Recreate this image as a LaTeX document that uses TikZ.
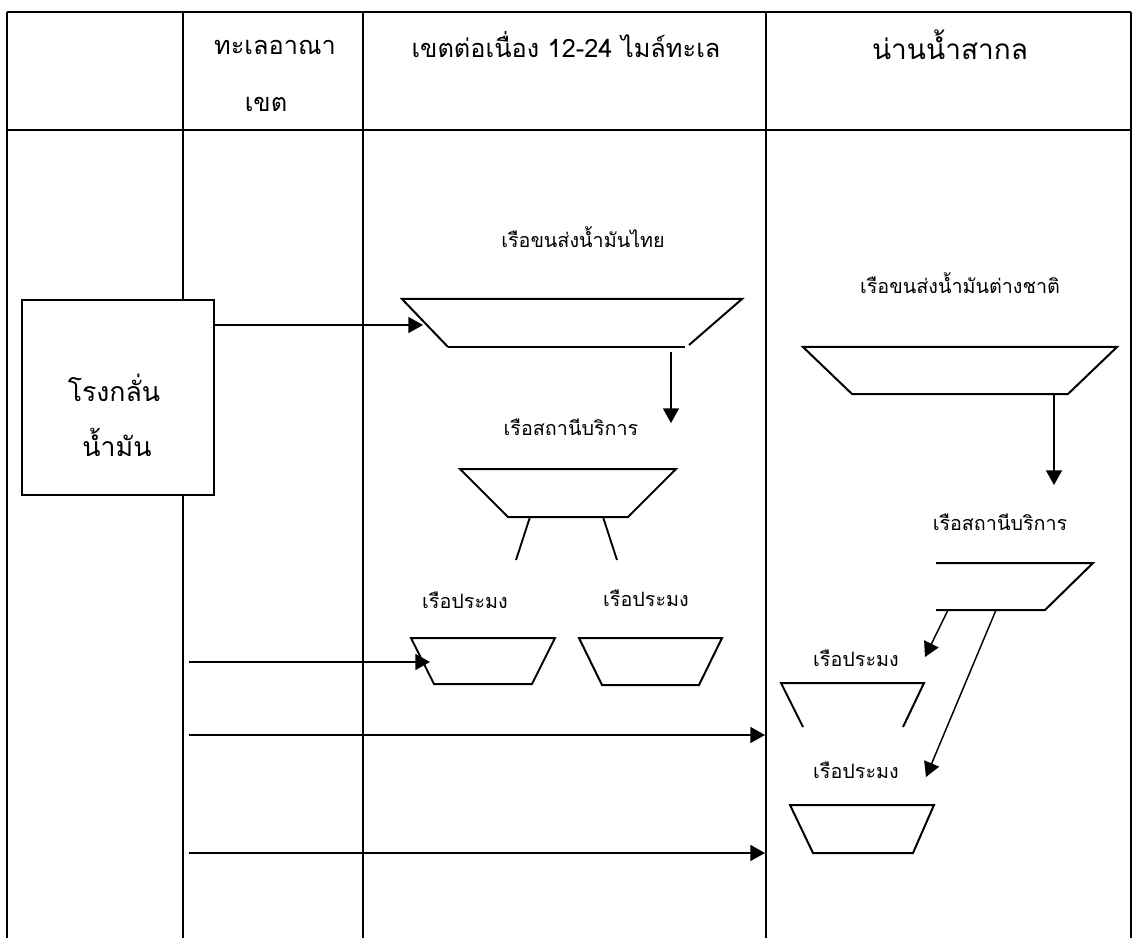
\documentclass[tikz,border=0pt]{standalone}
\usepackage{fontspec}
\newfontfamily\thai[Script=Thai]{Loma}
\usetikzlibrary{arrows.meta}
\tikzset{
  tblthick/.style={line width=1.9pt},
  tblthin/.style={line width=1.1pt},
  ship/.style={line width=1.5pt, line join=miter},
  conn/.style={line width=1.1pt, -{Triangle[length=11pt,width=12pt]}},
  leg/.style={line width=1.4pt},
  hdr/.style={font=\thai\fontsize{19}{22}\selectfont, inner sep=0pt},
  lbl/.style={font=\thai\fontsize{14.8}{17}\selectfont, inner sep=0pt},
  big/.style={font=\thai\fontsize{20}{24}\selectfont, inner sep=0pt},
}
\begin{document}
\begin{tikzpicture}[x=0.75pt,y=-0.75pt]
\useasboundingbox (0,0) rectangle (1133,938);
\fill[white] (0,0) rectangle (1133,938);
% table
\draw[tblthick] (7,12) -- (1131,12);
\draw[tblthick] (7,130) -- (1131,130);
\foreach \x in {7,183,363,766,1131} {
  \draw[tblthick] (\x,12) -- (\x,130);
  \draw[tblthin] (\x,130) -- (\x,938);
}
% headers
\node[hdr] (h1) at (275,47) {ทะเลอาณา};
\node[hdr] (h1b) at (266,104) {เขต};
\node[hdr] (h2) at (566,45) {เขตต่อเนื่อง 12-24 ไมล์ทะเล};
\node[hdr, font=\thai\fontsize{21}{24}\selectfont] (h3) at (950,45) {น่านน้ำสากล};
% refinery
\node[draw, fill=white, line width=1.5pt, minimum width=144pt, minimum height=145.5pt, inner sep=0pt] (ref) at (118,397.5) {};
\node[big] (ref1) at (114,388) {โรงกลั่น};
\node[big] (ref2) at (117,442) {น้ำมัน};
% Thai tanker
\coordinate (ttL) at (423,325);
\coordinate (ttB) at (671,352);
\draw[ship] (448,347) -- (402,299) -- (742,299) -- (689,345);
\draw[ship] (448,347) -- (685,347);
\node[lbl] (ttlab) at (583,237) {เรือขนส่งน้ำมันไทย};
% service ship Thai
\coordinate (stT) at (671,423);
\node[lbl] (stlab) at (571,427) {เรือสถานีบริการ};
\draw[ship] (460,469) -- (676,469) -- (628,517) -- (508,517) -- cycle;
\coordinate (stB1) at (530,517);
\coordinate (stB2) at (603,517);
\coordinate (fl1) at (516,560);
\coordinate (fl2) at (617,560);
\draw[leg] (stB1) -- (fl1);
\draw[leg] (stB2) -- (fl2);
\node[lbl] (fb1lab) at (465,600) {เรือประมง};
\node[lbl] (fb2lab) at (646,598) {เรือประมง};
\draw[ship] (411,638) -- (555,638) -- (532,684) -- (434,684) -- cycle;
\draw[ship] (579,638) -- (722,638) -- (699,685) -- (602,685) -- cycle;
\coordinate (fb1L) at (430,662);
% arrows from territorial sea
\coordinate (a1) at (189,662);
\coordinate (a2) at (189,735);
\coordinate (a3) at (189,853);
\coordinate (b2) at (765,735);
\coordinate (b3) at (765,853);
\draw[conn] (ref.east |- ttL) -- (ttL);
\draw[conn] (ttB) -- (stT);
\draw[conn] (a1) -- (fb1L);
\draw[conn] (a2) -- (b2);
\draw[conn] (a3) -- (b3);
% foreign tanker
\node[lbl] (ftlab) at (960,283) {เรือขนส่งน้ำมันต่างชาติ};
\draw[ship] (803,347) -- (1117,347) -- (1068,394) -- (852,394) -- cycle;
\coordinate (ftB) at (1054,394);
\coordinate (fsT) at (1054,485);
\draw[conn] (ftB) -- (fsT);
\node[lbl] (fslab) at (1000,522) {เรือสถานีบริการ};
\draw[ship] (936,563) -- (1093,563) -- (1045,610) -- (936,610);
\coordinate (fsB1) at (948,610);
\coordinate (fsB2) at (996,610);
\coordinate (ff1) at (925,657);
\coordinate (ff2) at (926,777);
\draw[conn] (fsB1) -- (ff1);
\draw[conn] (fsB2) -- (ff2);
\node[lbl] (ff1lab) at (856,658) {เรือประมง};
\node[lbl] (ff2lab) at (856,770) {เรือประมง};
\draw[ship] (803,727) -- (781,683) -- (924,683) -- (903,727);
\draw[ship] (790,805) -- (934,805) -- (913,853) -- (813,853) -- cycle;
\end{tikzpicture}
\end{document}
